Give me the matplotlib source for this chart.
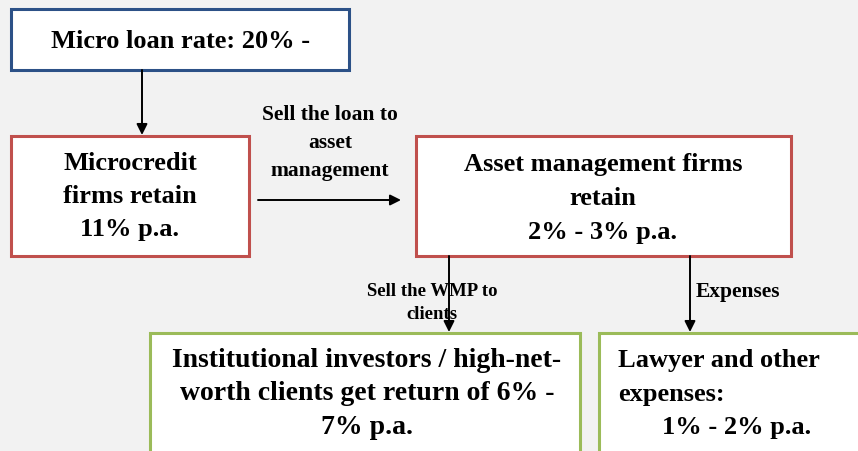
import matplotlib.pyplot as plt
from matplotlib.patches import Rectangle

# box texts
top_lines = ["Micro loan rate: 20% -", "30% p.a."]
micro_lines = ["Microcredit", "firms retain", "11% p.a."]
asset_lines = ["Asset management firms", "retain", "2% - 3% p.a."]
investor_lines = ["Institutional investors / high-net-", "worth clients get return of 6% -", "7% p.a."]
lawyer_lines = ["Lawyer and other", "expenses:", "1% - 2% p.a."]

# arrow labels
sell_loan = ["Sell the loan to", "asset", "management"]
sell_wmp = ["Sell the WMP to", "clients"]
expenses = ["Expenses"]

W, H = 858, 452
fig = plt.figure(figsize=(W / 100, H / 100), dpi=100)
fig.patch.set_facecolor('#f2f2f2')
ax = fig.add_axes([0, 0, 1, 1])
ax.set_xlim(0, W)
ax.set_ylim(H, 0)
ax.axis('off')

font = 'Liberation Serif'
blue = '#2c5187'
red = '#c0504d'
green = '#9bbb59'


def box(x0, y0, x1, y1, color):
    r = Rectangle((x0, y0), x1 - x0, y1 - y0, facecolor='white',
                  edgecolor=color, lw=2.2, zorder=1)
    ax.add_patch(r)
    return r


def lines(texts, xs, ys, size, ha='center', clip=None):
    if not isinstance(xs, list):
        xs = [xs] * len(texts)
    for t, x, y in zip(texts, xs, ys):
        txt = ax.text(x, y, t, ha=ha, va='center', fontsize=size,
                      fontweight='bold', family=font, zorder=3)
        if clip is not None:
            # second line of the top box is cut off by the box edge
            txt.set_clip_on(True)
            txt.set_clip_path(clip)


def arrow(x0, y0, x1, y1):
    ax.annotate('', xy=(x1, y1), xytext=(x0, y0), zorder=2,
                arrowprops=dict(arrowstyle='-|>', color='black', lw=1.4,
                                mutation_scale=16, shrinkA=0, shrinkB=0))


# boxes
tb = box(11, 10, 349, 71, blue)
box(11, 137, 249, 257, red)
box(416, 137, 791, 257, red)
box(150, 334, 580, 470, green)
box(599, 334, 880, 470, green)

lines(top_lines, [181, 181], [41, 83], 19, clip=tb)
lines(micro_lines, 130, [164, 197, 230], 19)
lines(asset_lines, 603, [165, 199, 233], 19)
lines(investor_lines, 367, [361, 394, 428], 20)
lines(lawyer_lines, [618, 618, 662], [361, 395, 428], 19, ha='left')

lines(sell_loan, 330, [115, 143, 171], 15.5)
lines(sell_wmp, 432, [292, 315], 13.5)
lines(expenses, 696, [292], 15.5, ha='left')

arrow(142, 71, 142, 136)
arrow(258, 201, 401, 201)
arrow(449, 257, 449, 333)
arrow(690, 257, 690, 333)

fig.savefig('out.png', dpi=100, facecolor=fig.get_facecolor())
